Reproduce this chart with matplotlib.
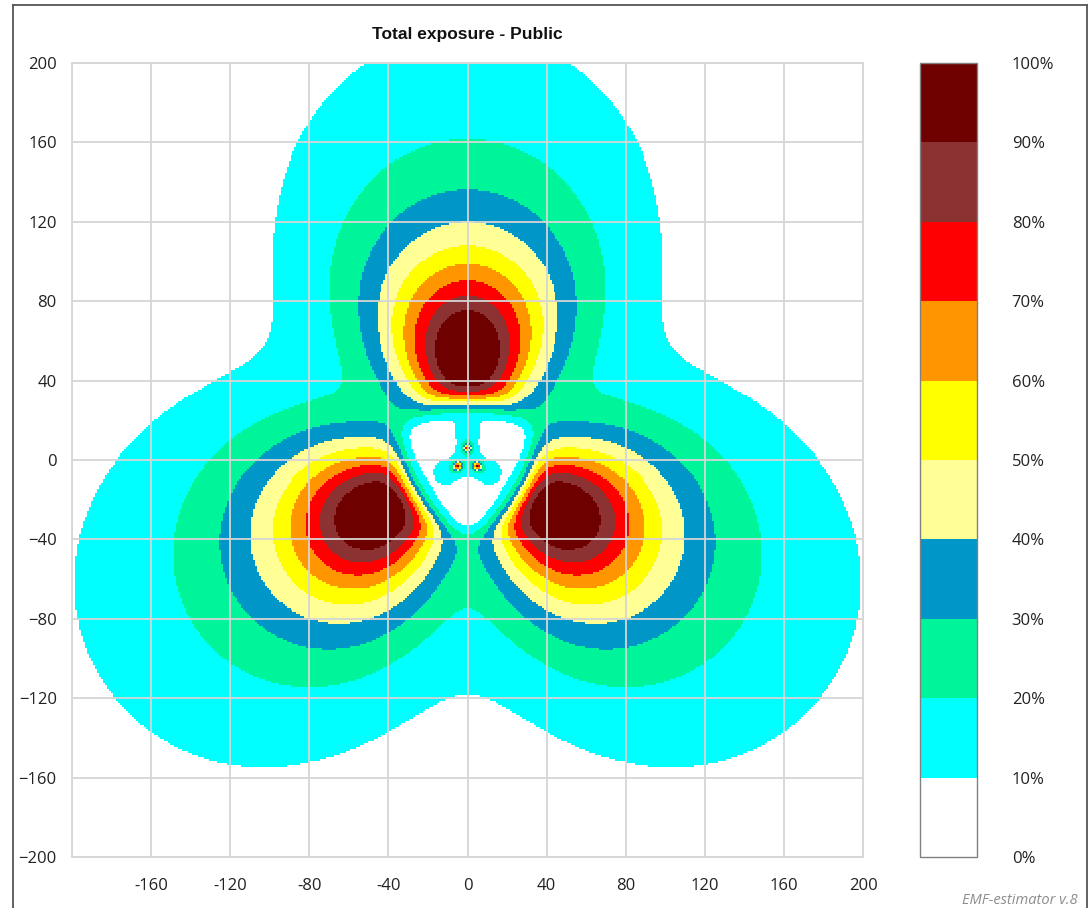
import matplotlib
matplotlib.use("Agg")
import matplotlib.pyplot as plt
import numpy as np
from matplotlib.colors import ListedColormap, BoundaryNorm
from matplotlib.cm import ScalarMappable
from matplotlib.lines import Line2D

# three sectors on one mast: boresight azimuth (deg) and where the inner edge of each lobe sits
SECTOR_AZ = [90, 210, 330]
SECTOR_CUT = [28.5, 31.5, 31.5]
ANTENNA_X = [0.0, -5.2, 5.2]
ANTENNA_Y = [6.0, -3.0, -3.0]

# lobe shape, fitted to the contour radii
LOBE_K = 292900.0
LOBE_CENTRE = 52.0
LOBE_SPREAD = 52.2
H_EXPONENT = 2.0
H_EXPONENT_FAR = 0.5
BACK_LEVEL = 0.003
CUT_WIDTH = 4.0
CUT_SIDE = 70.0
BLADE_LEVEL = 12.0
BLADE_DIST = 14.0
HOTSPOT_LEVEL = 90.0
HOTSPOT_RADIUS = 1.6

LEVELS = [0, 10, 20, 30, 40, 50, 60, 70, 80, 90, 100]
LEVEL_COLORS = ["#ffffff", "#00ffff", "#00f59a", "#0096c8", "#ffff96",
                "#ffff00", "#ff9600", "#ff0000", "#8c3232", "#6e0000"]
LEVEL_LABELS = ["0%", "10%", "20%", "30%", "40%", "50%", "60%", "70%", "80%", "90%", "100%"]
X_TICKS = [-200, -160, -120, -80, -40, 0, 40, 80, 120, 160, 200]
X_LABELS = ["", "-160", "-120", "-80", "-40", "0", "40", "80", "120", "160", "200"]
Y_TICKS = [-200, -160, -120, -80, -40, 0, 40, 80, 120, 160, 200]

plt.rcParams["font.family"] = ["Open Sans", "DejaVu Sans"]

# exposure map on a 1 m grid
xs = np.arange(-200, 201, 1.0)
X, Y = np.meshgrid(xs, xs)
dist = np.hypot(X, Y)
field = np.zeros_like(X)
for az, cut in zip(SECTOR_AZ, SECTOR_CUT):
    a = np.radians(az)
    u = X * np.cos(a) + Y * np.sin(a)
    v = -X * np.sin(a) + Y * np.cos(a)
    expo = H_EXPONENT + H_EXPONENT_FAR * (dist / 200) ** 2
    gain = np.clip(u / (dist + 1e-9), 0, None) ** expo + BACK_LEVEL
    base = LOBE_K / ((u - LOBE_CENTRE) ** 2 + v ** 2 + LOBE_SPREAD ** 2)
    edge = 1 / (1 + np.exp(-(u + v ** 2 / CUT_SIDE - cut) / CUT_WIDTH))
    field += base * gain * edge
    field += BLADE_LEVEL * np.exp(-((u - BLADE_DIST) / 5) ** 2 - (v / 7) ** 2)
for hx, hy in zip(ANTENNA_X, ANTENNA_Y):
    field += HOTSPOT_LEVEL / (1 + ((X - hx) ** 2 + (Y - hy) ** 2) / HOTSPOT_RADIUS ** 2)

cmap = ListedColormap(LEVEL_COLORS)
norm = BoundaryNorm(LEVELS, cmap.N)

fig = plt.figure(figsize=(10.91, 9.08), dpi=100)
ax = fig.add_axes([72 / 1091, 51 / 908, 791 / 1091, 794 / 908])
ax.pcolormesh(xs, xs, np.clip(field, 0, 99.9), cmap=cmap, norm=norm,
              shading="nearest", zorder=1)
ax.set_xlim(-200, 200)
ax.set_ylim(-200, 200)
ax.set_xticks(X_TICKS)
ax.set_xticklabels(X_LABELS)
ax.set_yticks(Y_TICKS)
ax.set_axisbelow(False)
ax.grid(color="#d6d6d6", lw=1.3)
ax.tick_params(length=0, labelsize=12, colors="#222222")
ax.tick_params(axis="x", pad=15)
ax.tick_params(axis="y", pad=11)
for s in ax.spines.values():
    s.set_color("#d6d6d6")
    s.set_linewidth(1.3)

cax = fig.add_axes([920 / 1091, 51 / 908, 57 / 1091, 794 / 908])
cb = fig.colorbar(ScalarMappable(norm=norm, cmap=cmap), cax=cax, ticks=LEVELS)
cb.ax.set_yticklabels(LEVEL_LABELS)
cax.tick_params(length=0, pad=25, labelsize=12, colors="#222222")
cb.outline.set_edgecolor("#808080")
cb.outline.set_linewidth(1)

fig.text(467 / 1091, 1 - 35 / 908, "Total exposure - Public", ha="center", va="center",
         fontsize=12.5, fontweight="bold", family="Liberation Sans", color="#111111")
fig.text(962 / 1091, 1 - 900 / 908, "EMF-estimator v.8", ha="left", va="center",
         fontsize=10.5, style="italic", color="#8c8c8c")

# window frame
frame = "#555555"
fig.add_artist(Line2D([13 / 1091, 13 / 1091], [0, 1 - 5 / 908], color=frame, lw=1.3))
fig.add_artist(Line2D([13 / 1091, 1087 / 1091], [1 - 5 / 908, 1 - 5 / 908], color=frame, lw=1.3))
fig.add_artist(Line2D([1087 / 1091, 1087 / 1091], [0, 1 - 5 / 908], color=frame, lw=1.3))

fig.savefig("out.png", dpi=100)
